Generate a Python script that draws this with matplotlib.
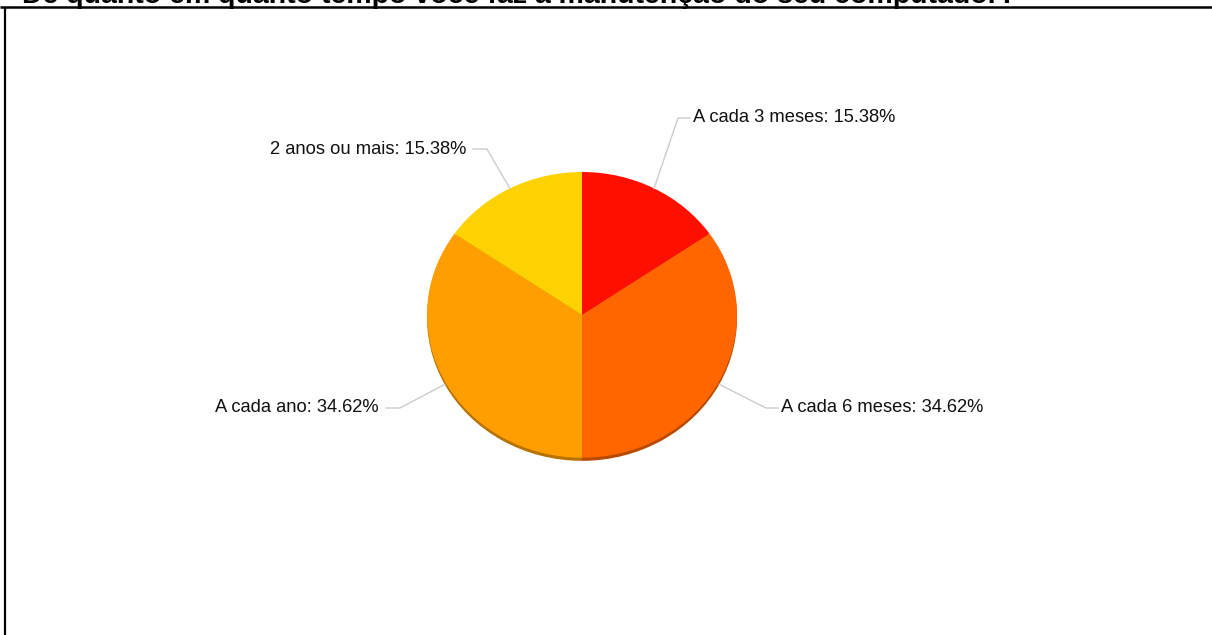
import numpy as np
import matplotlib.pyplot as plt

plt.rcParams['font.family'] = ['Liberation Sans', 'DejaVu Sans']

# Respostas e percentuais
categorias = ['A cada 3 meses', 'A cada 6 meses', 'A cada ano', '2 anos ou mais']
percentuais = [15.38, 34.62, 34.62, 15.38]
cores = ['#FF0F00', '#FF6600', '#FF9E01', '#FCD202']
cores_borda = ['#B80B00', '#B84A00', '#B87200', '#B89900']
titulo = 'De quanto em quanto tempo você faz a manutenção do seu computador?'

W, H = 1212, 635
fig = plt.figure(figsize=(W / 100, H / 100), dpi=100)
fig.patch.set_facecolor('white')

# Geometria da pizza (em pixels)
cx, cy, rx, ry = 582, 317, 155, 145

ax = fig.add_axes([(cx - rx) / W, (H - cy - ry) / H, 2 * rx / W, 2 * ry / H])
# sombra inferior (efeito 3D leve)
ax.pie(percentuais, colors=cores_borda, startangle=90, counterclock=False,
       radius=1, center=(0, -0.022), wedgeprops=dict(linewidth=0))
wedges, _ = ax.pie(percentuais, colors=cores, startangle=90, counterclock=False,
                   radius=1, wedgeprops=dict(linewidth=0))
ax.set_aspect('auto')
ax.set_xlim(-1, 1)
ax.set_ylim(-1.03, 1)
ax.axis('off')

# Camada em pixels para rótulos, linhas e moldura
ov = fig.add_axes([0, 0, 1, 1], facecolor='none')
ov.set_xlim(0, W)
ov.set_ylim(H, 0)
ov.axis('off')

# posições dos rótulos: (x do cotovelo, y, lado)
pos_rotulos = [(678, 118, 1), (766, 408, 1), (400, 408, -1), (487, 149, -1)]
for w, cat, p, (ex, ey, lado) in zip(wedges, categorias, percentuais, pos_rotulos):
    ang = np.deg2rad((w.theta1 + w.theta2) / 2)
    px = cx + rx * np.cos(ang)
    py = cy - ry * np.sin(ang)
    comp = 12 if lado > 0 else 14
    desloc = 15 if lado > 0 else 21
    ov.plot([px, ex, ex + comp * lado], [py, ey, ey], color='#cccccc', lw=1)
    ov.text(ex + desloc * lado, ey, f'{cat}: {p:.2f}%', fontsize=13.2,
            ha='left' if lado > 0 else 'right', va='center', color='#111111')

# moldura e título cortado no topo
ov.plot([0, W], [6.5, 6.5], color='black', lw=1.8, solid_capstyle='butt')
ov.plot([5, 5], [6.5, H], color='black', lw=1.6, solid_capstyle='butt')
ov.text(22, 3.0, titulo, fontsize=20.5, fontweight='bold', ha='left', va='baseline',
        color='black')

fig.savefig('out.png', dpi=100)
